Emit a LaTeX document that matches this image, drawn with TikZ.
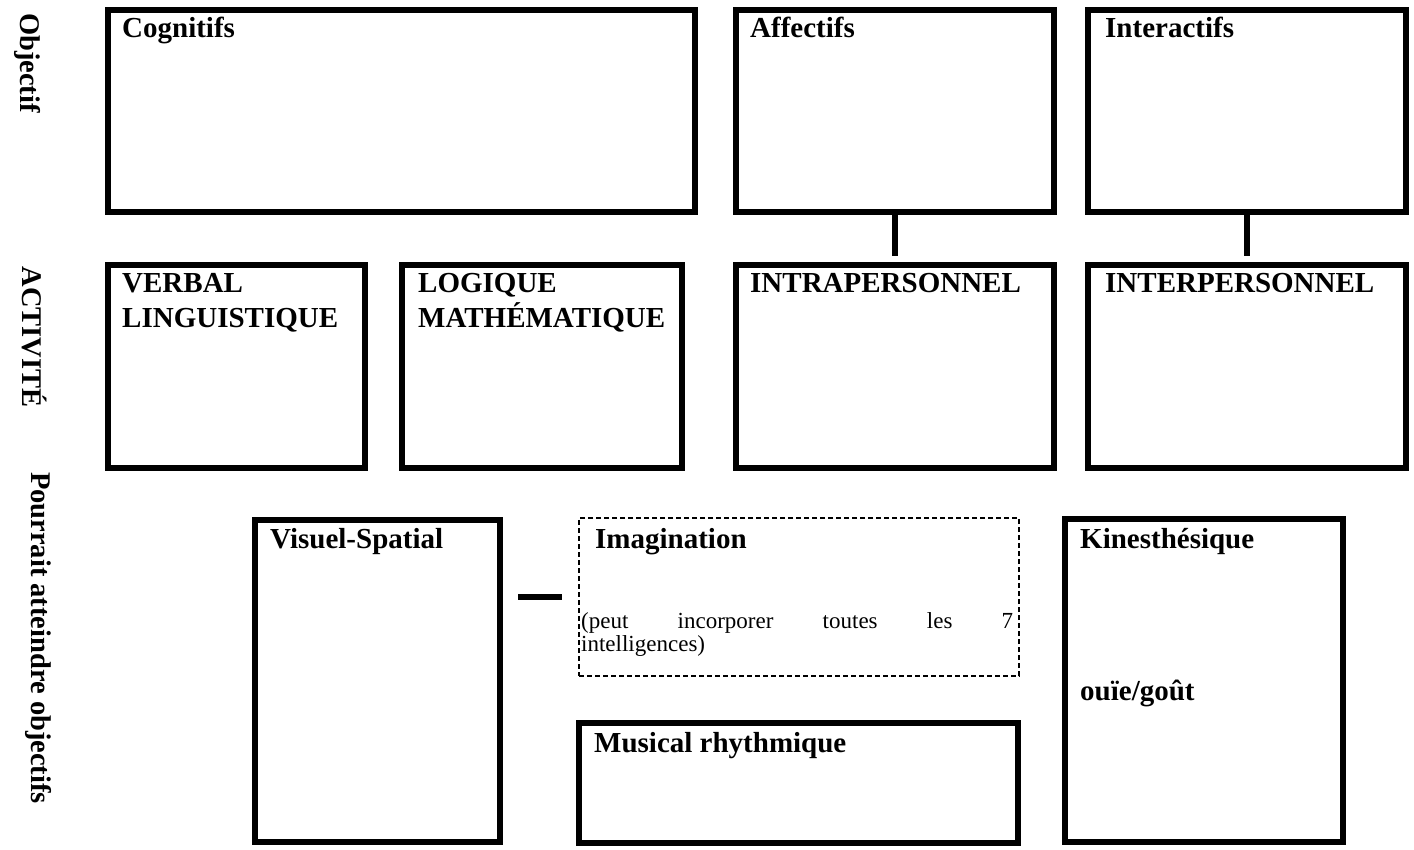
\documentclass[tikz,border=0pt]{standalone}
\usepackage{fontspec}
\setmainfont{Liberation Serif}
\usetikzlibrary{calc}
\tikzset{
  box/.style={draw, line width=6pt, inner sep=0pt},
  dbox/.style={draw, line width=1.6pt, dash pattern=on 5pt off 3pt, inner sep=0pt},
  conn/.style={line width=6pt},
  lbl/.style={font=\fontsize{29}{35}\selectfont\bfseries, inner sep=0pt, anchor=base west},
  side/.style={font=\fontsize{28.5}{35}\selectfont\bfseries, inner sep=0pt, rotate=-90},
  small/.style={font=\fontsize{23}{28}\selectfont, inner sep=0pt, anchor=base west},
}
\begin{document}
\begin{tikzpicture}[x=1pt,y=-1pt]
\useasboundingbox (0,0) rectangle (1414,849);
% side labels
\node[side] (sobj) at (27,63) {Objectif};
\node[side] (sact) at (35,337) {ACTIVITÉ};
\node[side] (spou) at (38,638) {Pourrait atteindre objectifs};
% row 1
\node[box, minimum width=587pt, minimum height=202pt] (cog) at (401.5,111) {};
\node[box, minimum width=318pt, minimum height=202pt] (aff) at (895,111) {};
\node[box, minimum width=318pt, minimum height=202pt] (int) at (1247,111) {};
% row 2
\node[box, minimum width=257pt, minimum height=203pt] (verb) at (236.5,366.5) {};
\node[box, minimum width=280pt, minimum height=203pt] (logi) at (542,366.5) {};
\node[box, minimum width=318pt, minimum height=203pt] (intra) at (895,366.5) {};
\node[box, minimum width=318pt, minimum height=203pt] (inter) at (1247,366.5) {};
% row 3
\node[box, minimum width=245pt, minimum height=322pt] (vis) at (377.5,681) {};
\node[dbox, minimum width=440pt, minimum height=158pt] (imag) at (799,597) {};
\node[box, minimum width=439pt, minimum height=120pt] (mus) at (798.5,783) {};
\node[box, minimum width=278pt, minimum height=323pt] (kin) at (1204,680.5) {};
% connectors
\draw[conn, shorten >=6pt] (aff.south) -- (intra.north);
\draw[conn, shorten >=6pt] (int.south) -- (inter.north);
\draw[conn, shorten <=15pt, shorten >=16pt] (vis.east |- imag.west) -- (imag.west);
% texts
\node[lbl] (tcog) at (122,37) {Cognitifs};
\node[lbl] (taff) at (750,37) {Affectifs};
\node[lbl] (tint) at (1105,37) {Interactifs};
\node[lbl] (tverb1) at (122,292) {VERBAL};
\node[lbl] (tverb2) at (122,327) {LINGUISTIQUE};
\node[lbl] (tlogi1) at (418,292) {LOGIQUE};
\node[lbl] (tlogi2) at (418,327) {MATHÉMATIQUE};
\node[lbl] (tintra) at (750,292) {INTRAPERSONNEL};
\node[lbl] (tinter) at (1105,292) {INTERPERSONNEL};
\node[lbl] (tvis) at (270,548) {Visuel-Spatial};
\node[lbl] (timag) at (595,548) {Imagination};
\node[small] (timag1) at (581,628) {\makebox[432pt][s]{(peut incorporer toutes les 7}};
\node[small] (timag2) at (581,651) {intelligences)};
\node[lbl] (tkin) at (1080,548) {Kinesthésique};
\node[lbl] (tkin2) at (1080,700) {ouïe/goût};
\node[lbl] (tmus) at (594,752) {Musical rhythmique};
\end{tikzpicture}
\end{document}
